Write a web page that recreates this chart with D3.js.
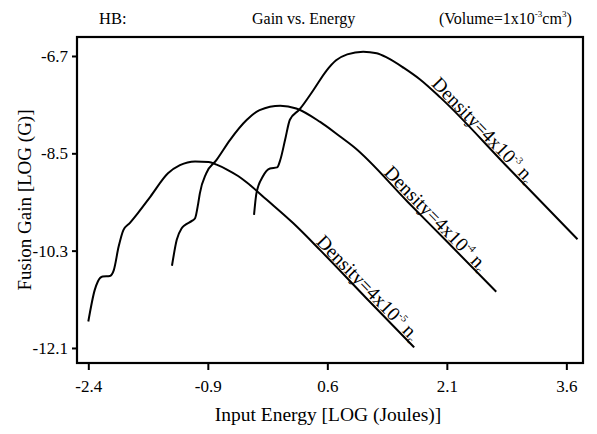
<!DOCTYPE html>
<html>
<head>
<meta charset="utf-8">
<script src="https://cdn.jsdelivr.net/npm/d3@7"></script>
<style>
body { margin: 0; background: #fff; }
svg text { font-family: "Liberation Serif", "Times New Roman", serif; fill: #000; }
</style>
</head>
<body>
<div id="chart"></div>
<script>
(function() {

const w = 597;
const h = 434;

// tick labels
const xTicks = [-2.4, -0.9, 0.6, 2.1, 3.6];
const yTicks = [-6.7, -8.5, -10.3, -12.1];

// density 4x10^-5
const energyA = [-2.40, -2.32, -2.28, -2.22, -2.13, -2.08, -2.02, -1.96, -1.88, -1.78, -1.62, -1.40, -1.25, -1.06, -0.89, -0.79, -0.66, -0.52, -0.41, -0.16, 0.17, 0.51, 1.09, 1.69];
const gainA   = [-11.61, -11.03, -10.87, -10.78, -10.77, -10.66, -10.23, -9.92, -9.79, -9.61, -9.30, -8.87, -8.72, -8.65, -8.66, -8.71, -8.80, -8.92, -9.04, -9.36, -9.79, -10.29, -11.18, -12.09];

// density 4x10^-4
const energyB = [-1.35, -1.29, -1.23, -1.19, -1.10, -1.06, -1.02, -1.00, -0.92, -0.79, -0.62, -0.41, -0.25, 0.01, 0.21, 0.51, 0.76, 0.93, 1.61, 2.12, 2.72];
const gainB   = [-10.58, -10.10, -9.89, -9.83, -9.75, -9.70, -9.42, -9.24, -8.87, -8.62, -8.25, -7.88, -7.70, -7.62, -7.67, -7.92, -8.19, -8.38, -9.40, -10.16, -11.06];

// density 4x10^-3
const energyC = [-0.32, -0.29, -0.21, -0.12, -0.03, 0.01, 0.07, 0.13, 0.25, 0.43, 0.59, 0.71, 0.85, 1.05, 1.22, 1.35, 1.56, 1.76, 2.02, 2.84, 3.74];
const gainC   = [-9.64, -9.24, -8.93, -8.78, -8.76, -8.62, -8.25, -7.88, -7.69, -7.32, -6.97, -6.78, -6.67, -6.62, -6.65, -6.73, -6.92, -7.13, -7.47, -8.72, -10.09];

const exponents = ["-5", "-4", "-3"];
const labelStart = [0.43, 1.28, 1.88];

const series = [
    { x: energyA, y: gainA },
    { x: energyB, y: gainB },
    { x: energyC, y: gainC }
];

const left = 77, right = 583, top = 37, bottom = 363;

const xScale = d3.scaleLinear().domain([-2.542, 3.809]).range([left, right]);
const yScale = d3.scaleLinear().domain([-6.349, -12.378]).range([top, bottom]);

const svg = d3.select("#chart")
    .append("svg")
    .attr("width", w)
    .attr("height", h);

// x axis ticks
const xAxis = svg.append("g")
    .attr("transform", "translate(0," + bottom + ")")
    .call(d3.axisBottom(xScale)
        .tickValues(xTicks)
        .tickSize(7)
        .tickPadding(10)
        .tickFormat(function(d) { return d.toFixed(1); }));
xAxis.select(".domain").remove();
xAxis.selectAll("line").attr("stroke", "#000").attr("stroke-width", 2);
xAxis.selectAll("text").attr("font-size", 17).attr("font-family", null);

// y axis ticks
const yAxis = svg.append("g")
    .attr("transform", "translate(" + left + ",0)")
    .call(d3.axisLeft(yScale)
        .tickValues(yTicks)
        .tickSize(5)
        .tickPadding(4)
        .tickFormat(function(d) { return d.toFixed(1); }));
yAxis.select(".domain").remove();
yAxis.selectAll("line").attr("stroke", "#000").attr("stroke-width", 2);
yAxis.selectAll("text").attr("font-size", 17).attr("font-family", null);

// frame
svg.append("rect")
    .attr("x", left)
    .attr("y", top)
    .attr("width", right - left)
    .attr("height", bottom - top)
    .attr("fill", "none")
    .attr("stroke", "#000")
    .attr("stroke-width", 2.2);

const line = d3.line()
    .x(function(d) { return xScale(d[0]); })
    .y(function(d) { return yScale(d[1]); })
    .curve(d3.curveMonotoneX);

series.forEach(function(s, i) {
    const pts = s.x.map(function(v, j) { return [v, s.y[j]]; });

    svg.append("path")
        .datum(pts)
        .attr("d", line)
        .attr("fill", "none")
        .attr("stroke", "#000")
        .attr("stroke-width", 2);

    // label sits on the straight falling part
    const n = pts.length;
    const a = pts[n - 2], b = pts[n - 1];
    const angle = Math.atan2(yScale(b[1]) - yScale(a[1]), xScale(b[0]) - xScale(a[0])) * 180 / Math.PI;
    const lx = labelStart[i];
    const t = (lx - a[0]) / (b[0] - a[0]);
    const ly = a[1] + t * (b[1] - a[1]);
    const px = xScale(lx), py = yScale(ly);

    const label = svg.append("text")
        .attr("transform", "translate(" + px + "," + py + ") rotate(" + angle + ")")
        .attr("y", -2)
        .attr("font-size", 19.5);
    label.append("tspan").text("Density=4x10");
    label.append("tspan").attr("font-size", 10).attr("dy", -8).text(exponents[i]);
    label.append("tspan").attr("dy", 8).text(" n");
    label.append("tspan").attr("font-size", 10).attr("dy", 3).text("c");
});

// titles
svg.append("text")
    .attr("x", 99)
    .attr("y", 24)
    .attr("font-size", 16.5)
    .text("HB:");

svg.append("text")
    .attr("x", 252)
    .attr("y", 24)
    .attr("font-size", 16)
    .text("Gain vs. Energy");

const vol = svg.append("text")
    .attr("x", 439)
    .attr("y", 24)
    .attr("font-size", 16);
vol.append("tspan").text("(Volume=1x10");
vol.append("tspan").attr("font-size", 9).attr("dy", -7).text("-3");
vol.append("tspan").attr("dy", 7).text("cm");
vol.append("tspan").attr("font-size", 9).attr("dy", -7).text("3");
vol.append("tspan").attr("dy", 7).text(")");

svg.append("text")
    .attr("x", 328)
    .attr("y", 421)
    .attr("text-anchor", "middle")
    .attr("font-size", 19.5)
    .text("Input Energy [LOG (Joules)]");

svg.append("text")
    .attr("transform", "translate(31," + (top + bottom) / 2 + ") rotate(-90)")
    .attr("text-anchor", "middle")
    .attr("font-size", 19)
    .text("Fusion Gain [LOG (G)]");

})();
</script>
</body>
</html>
